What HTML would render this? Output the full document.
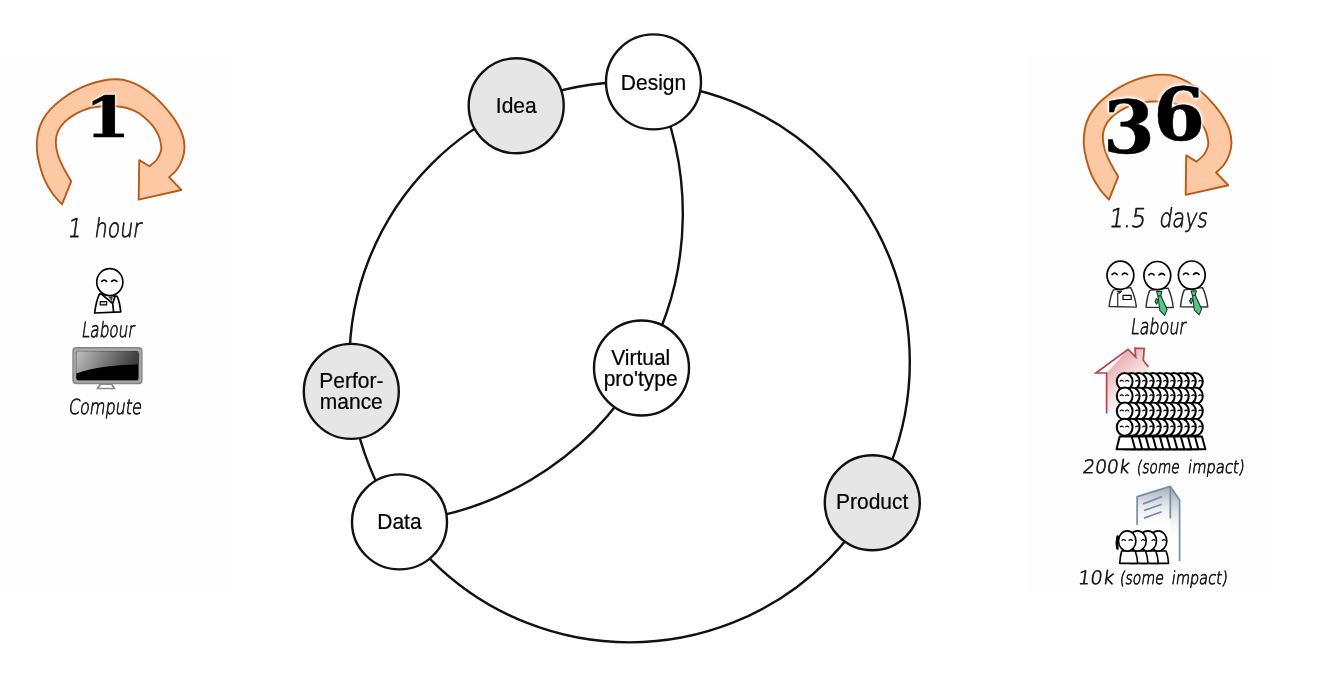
<!DOCTYPE html>
<html lang="en">
<head>
<meta charset="utf-8">
<title>Design cycle</title>
<style>
html,body{margin:0;padding:0;background:#fff;}
body{width:1317px;height:679px;overflow:hidden;position:relative;}
svg{position:absolute;left:0;top:0;display:block;}
text{opacity:.999;}
.lbl{font-family:"Liberation Sans",sans-serif;font-size:21px;fill:#000;stroke:#000;stroke-width:.22px;text-anchor:middle;}
.hand{font-family:"DejaVu Sans","Liberation Sans",sans-serif;font-weight:200;fill:#151515;stroke:#151515;stroke-width:.75px;stroke-linejoin:round;}
.num{font-family:"DejaVu Serif","Liberation Serif",serif;font-weight:bold;fill:#000;stroke:#000;stroke-width:.6px;filter:drop-shadow(0 0 1.2px #fff) drop-shadow(0 0 1.6px #fff) drop-shadow(0 0 2px #fff);}
.ink{fill:#fff;stroke:#000;stroke-width:1.7;stroke-linejoin:round;stroke-linecap:round;}
.ink .eye{fill:none;stroke-width:1.4;}
.crowd{fill:#fff;stroke:#000;stroke-width:2;stroke-linejoin:round;stroke-linecap:round;}
.crowd .eye{fill:none;stroke-width:1.2;}
.tie{fill:#4fcb85;stroke:#173d28;stroke-width:1.1;stroke-linejoin:round;}
</style>
</head>
<body>
<svg width="1317" height="679" viewBox="0 0 1317 679">
<defs>
  <path id="arrow" d="M62.0,204.4 C60.5,202.6 55.6,197.9 52.7,193.7 C49.8,189.5 46.6,184.3 44.4,179.3 C42.2,174.3 40.6,169.0 39.3,163.8 C38.0,158.7 37.0,153.4 36.8,148.4 C36.5,143.4 36.9,138.6 37.8,133.9 C38.7,129.2 40.3,124.6 42.4,120.5 C44.5,116.4 47.5,112.6 50.6,109.2 C53.7,105.8 57.1,102.8 60.9,99.9 C64.7,97.0 68.8,94.1 73.3,91.6 C77.8,89.1 82.9,86.6 87.7,84.8 C92.5,83.0 97.4,81.6 102.2,80.7 C107.0,79.8 112.1,79.2 116.6,79.3 C121.0,79.4 124.8,80.0 128.9,81.3 C133.0,82.6 137.1,84.5 141.2,86.9 C145.3,89.3 149.6,92.4 153.6,95.8 C157.6,99.2 161.3,103.0 164.9,107.1 C168.5,111.2 172.4,115.9 175.3,120.5 C178.2,125.1 181.0,130.4 182.5,134.9 C184.0,139.4 184.5,143.3 184.5,147.3 C184.5,151.3 183.7,155.1 182.5,158.7 C181.3,162.3 179.5,165.9 177.3,169.0 C175.1,172.1 170.5,175.8 169.1,177.2 L181.4,190.0 L138.7,199.6 L139.2,160.1 L149.5,166.3 C150.7,165.2 154.8,162.2 156.7,159.7 C158.6,157.2 160.1,153.6 160.8,151.4 C161.6,149.2 161.5,148.9 161.2,146.3 C160.9,143.7 160.2,139.4 158.8,136.0 C157.4,132.6 155.2,129.0 152.6,125.7 C150.0,122.4 146.6,119.0 143.3,116.4 C140.0,113.8 136.8,111.8 133.0,110.2 C129.2,108.6 125.3,107.4 120.6,106.7 C115.9,106.0 109.8,106.1 105.0,106.2 C100.2,106.3 95.5,106.8 91.9,107.5 C88.3,108.2 86.7,108.9 83.6,110.2 C80.5,111.5 76.6,113.3 73.3,115.4 C70.0,117.5 66.6,119.8 64.0,122.6 C61.4,125.3 59.2,128.6 57.8,131.9 C56.4,135.2 55.8,138.4 55.8,142.2 C55.8,146.0 56.6,150.4 57.8,154.5 C59.0,158.6 60.8,162.4 63.0,166.9 C65.2,171.4 69.8,178.9 71.2,181.3 Z"/>
  <linearGradient id="gloss" gradientUnits="userSpaceOnUse" x1="80" y1="351" x2="128" y2="376">
    <stop offset="0" stop-color="#b8b8b8"/>
    <stop offset="1" stop-color="#3c3c3c"/>
  </linearGradient>
  <linearGradient id="bezel" x1="0" y1="0" x2="0" y2="1">
    <stop offset="0" stop-color="#8c8c8c"/>
    <stop offset="1" stop-color="#9a9a9a"/>
  </linearGradient>
  <linearGradient id="houseg" gradientUnits="userSpaceOnUse" x1="1112" y1="362" x2="1140" y2="392">
    <stop offset="0" stop-color="#e9aeb2"/>
    <stop offset="1" stop-color="#e9aeb2" stop-opacity="0"/>
  </linearGradient>
  <linearGradient id="bldf" gradientUnits="userSpaceOnUse" x1="0" y1="490" x2="0" y2="527">
    <stop offset="0" stop-color="#aeb6c4"/>
    <stop offset="1" stop-color="#ffffff" stop-opacity="0"/>
  </linearGradient>
  <linearGradient id="blds" gradientUnits="userSpaceOnUse" x1="0" y1="490" x2="0" y2="540">
    <stop offset="0" stop-color="#a2aaba"/>
    <stop offset="1" stop-color="#ffffff" stop-opacity="0"/>
  </linearGradient>
  <g id="head">
    <ellipse cx="0" cy="0" rx="13.4" ry="14.1"/>
    <path class="eye" d="M-8.3,-0.8 q2.5,-2.6 5,0 M1.8,-0.8 q2.6,-2.6 5.4,0"/>
  </g>
  <g id="personA">
    <path d="M-10.2,11.7 Q-13.5,18 -15.2,30.9 L10.9,29.8 Q10,20 7.3,14.3 Z"/>
    <path d="M-7.7,12.5 L2.9,21.4 L3.8,29.8 M5.1,14.3 L2.9,21.4" fill="none"/>
    <path d="M-0.6,15 L2.6,15.4 L1.8,18.2 Z" fill="#333" stroke-width=".5"/>
    <rect x="-9.6" y="19.6" width="6.4" height="3.2" fill="#ddd" stroke-width="1.2"/>
    <use href="#head" transform="scale(0.975,0.96)"/>
  </g>
  <g id="personB">
    <path d="M-7,14.6 Q-10,20 -11.3,31.2 L16,31.8 Q14.5,20 10.2,12.3 Z" stroke="#333" stroke-width="1.45"/>
    <path d="M-2.7,18 L-2.7,31.3" fill="none" stroke="#333" stroke-width="1.3"/>
    <path d="M-3.2,15.6 L1.6,15.6 L-0.8,18.2 Z" fill="#333" stroke-width=".6"/>
    <rect x="2.6" y="20.1" width="8.1" height="4.1" fill="#fff" stroke-width="1.2"/>
    <use href="#head"/>
  </g>
  <g id="personC">
    <path d="M-7.5,14.8 Q-10,20 -11.3,31.6 L16,31.9 Q14.5,20 10.7,12.5 Z" stroke="#333" stroke-width="1.45"/>
    <path class="tie" d="M-0.8,23 L-2.2,26 L-0.6,28.6 L1,24.5 Z"/>
    <path class="tie" d="M-0.8,15.8 L4.5,15.8 L3.5,20.1 L0.7,20.6 Z"/>
    <path class="tie" d="M0.7,20.6 L3.5,20.1 L9.8,34 L7.4,39.8 L2.6,35 Z"/>
    <use href="#head"/>
  </g>
</defs>
<g id="panel-bg">
  <rect x="0" y="52" width="233" height="542" fill="#fefefe"/>
  <rect x="1027" y="52" width="247" height="542" fill="#fefefe"/>
</g>

<g id="diagram" fill="none" stroke="#111" stroke-width="2.4">
  <circle cx="629.6" cy="362.2" r="280.2"/>
  <path d="M653.5,81.9 A309.6,309.6 0 0 1 399.5,521.9"/>
  <circle cx="516.2" cy="105.8" r="47.5" fill="#e6e6e6"/>
  <circle cx="653.5" cy="81.9" r="47.5" fill="#fff"/>
  <circle cx="351.3" cy="391.4" r="47.5" fill="#e6e6e6"/>
  <circle cx="399.5" cy="521.9" r="47.5" fill="#fff"/>
  <circle cx="641.5" cy="368" r="47.5" fill="#fff"/>
  <circle cx="872.3" cy="502.8" r="47.5" fill="#e6e6e6"/>
</g>
<g id="labels" class="lbl">
  <text transform="translate(516.3,112.9) scale(1,1.075)">Idea</text>
  <text transform="translate(653.5,89.6) scale(1,1.075)">Design</text>
  <text transform="translate(351.3,387.5) scale(1,1.075)">Perfor-</text>
  <text transform="translate(351.3,409.1) scale(1,1.075)">mance</text>
  <text transform="translate(399.4,529.0) scale(1,1.075)">Data</text>
  <text transform="translate(640.7,365.0) scale(1,1.075)">Virtual</text>
  <text transform="translate(640.7,385.8) scale(1,1.075)">pro'type</text>
  <text transform="translate(872.2,509.0) scale(1,1.075)">Product</text>
</g>

<g id="left-panel">
  <use href="#arrow" fill="#fdc9a5" stroke="#b85a18" stroke-width="1.9" stroke-linejoin="round"/>
  <text class="num" font-size="100" transform="translate(84.7,137) scale(0.656,0.5635)">1</text>
  <text class="hand" font-size="26" transform="translate(0,236.6) skewX(-8)" y="0"><tspan x="66.90" textLength="13.74" lengthAdjust="spacingAndGlyphs">1</tspan> <tspan x="93.80" textLength="46.80" lengthAdjust="spacingAndGlyphs">hour</tspan></text>
  <use href="#personA" class="ink" transform="translate(109.8,282.1)"/>
  <text class="hand" font-size="21" transform="translate(0,336.5) skewX(-8)" y="0"><tspan x="81.07" textLength="52.71" lengthAdjust="spacingAndGlyphs">Labour</tspan></text>
  <g id="monitor">
    <path d="M100.4,384.2 L111.6,384.2 L114.4,388.5 L97.6,388.5 Z" fill="#fff" stroke="#8a8a8a" stroke-width="1.7"/>
    <rect x="72.3" y="347.1" width="70.3" height="37.1" rx="4" fill="#858585"/>
    <rect x="73.6" y="348.5" width="67.7" height="34.3" rx="3" fill="#a9a9a9"/>
    <rect x="75.6" y="350.7" width="63.7" height="30.2" rx="2.6" fill="#8a8a8a"/>
    <rect x="76.3" y="351.3" width="62.2" height="28.9" rx="2.2" fill="#000"/>
    <path d="M76.3,353.5 a2.2,2.2 0 0 1 2.2,-2.2 h57.8 a2.2,2.2 0 0 1 2.2,2.2 V364.6 C112,364.9 92,368.2 76.3,373.4 Z" fill="url(#gloss)"/>
  </g>
  <text class="hand" font-size="20.6" transform="translate(0,414.4) skewX(-8)" y="0"><tspan x="68.09" textLength="73.04" lengthAdjust="spacingAndGlyphs">Compute</tspan></text>
</g>

<g id="right-panel">
  <use href="#arrow" transform="translate(1047,-4.7)" fill="#fdc9a5" stroke="#b85a18" stroke-width="1.9" stroke-linejoin="round"/>
  <text class="num" font-size="100" transform="scale(0.744,0.736)"><tspan x="1482.7" y="207.3">3</tspan><tspan x="1550.1" y="190.5">6</tspan></text>
  <text class="hand" font-size="26" transform="translate(0,226.7) skewX(-8)" y="0"><tspan x="1108.22" textLength="36.84" lengthAdjust="spacingAndGlyphs">1.5</tspan> <tspan x="1158.44" textLength="48.69" lengthAdjust="spacingAndGlyphs">days</tspan></text>
  <use href="#personB" class="ink" transform="translate(1120.4,275.3)"/>
  <use href="#personC" class="ink" transform="translate(1157.3,275.6)"/>
  <use href="#personC" class="ink" transform="translate(1191.8,275.1)"/>
  <text class="hand" font-size="21.5" transform="translate(0,333.5) skewX(-8)" y="0"><tspan x="1130.04" textLength="55.00" lengthAdjust="spacingAndGlyphs">Labour</tspan></text>
  <g id="house">
    <path d="M1106.6,373 L1128.1,349.3 L1135.7,356.9 L1134.9,348.1 L1144.2,348.5 L1143.3,360.3 L1148.4,367.1 L1150,414 L1106.6,413.6 Z" fill="url(#houseg)"/>
    <path d="M1106.6,413.6 L1106.6,373 L1095.9,373 L1128.1,349.3 L1135.7,356.9 L1134.9,348.1 L1144.2,348.5 L1143.3,360.3 L1148.4,367.1" fill="none" stroke="#b4454b" stroke-width="1.7" stroke-linejoin="miter"/>
  </g>
  <g class="crowd">
<path d="M1189.9,436.5 L1186.7,449.3 L1205.4,449.3 L1201.9,436.5 Z"/>
<path d="M1182.9,436.5 L1179.7,449.3 L1198.4,449.3 L1194.9,436.5 Z"/>
<path d="M1175.9,436.5 L1172.7,449.3 L1191.4,449.3 L1187.9,436.5 Z"/>
<path d="M1168.8,436.5 L1165.6,449.3 L1184.3,449.3 L1180.8,436.5 Z"/>
<path d="M1161.8,436.5 L1158.6,449.3 L1177.3,449.3 L1173.8,436.5 Z"/>
<path d="M1154.8,436.5 L1151.6,449.3 L1170.3,449.3 L1166.8,436.5 Z"/>
<path d="M1147.8,436.5 L1144.6,449.3 L1163.3,449.3 L1159.8,436.5 Z"/>
<path d="M1140.8,436.5 L1137.6,449.3 L1156.3,449.3 L1152.8,436.5 Z"/>
<path d="M1133.7,436.5 L1130.5,449.3 L1149.2,449.3 L1145.7,436.5 Z"/>
<path d="M1126.7,436.5 L1123.5,449.3 L1142.2,449.3 L1138.7,436.5 Z"/>
<path d="M1119.7,436.5 L1116.5,449.3 L1135.2,449.3 L1131.7,436.5 Z"/>
<ellipse cx="1194.9" cy="381.5" rx="7.9" ry="8.5"/>
<path class="eye" d="M1198.9,381.2 q1.2,-1.4 2.6,-0.2"/>
<ellipse cx="1187.9" cy="381.5" rx="7.9" ry="8.5"/>
<path class="eye" d="M1191.9,381.2 q1.2,-1.4 2.6,-0.2"/>
<ellipse cx="1180.9" cy="381.5" rx="7.9" ry="8.5"/>
<path class="eye" d="M1184.9,381.2 q1.2,-1.4 2.6,-0.2"/>
<ellipse cx="1173.8" cy="381.5" rx="7.9" ry="8.5"/>
<path class="eye" d="M1177.8,381.2 q1.2,-1.4 2.6,-0.2"/>
<ellipse cx="1166.8" cy="381.5" rx="7.9" ry="8.5"/>
<path class="eye" d="M1170.8,381.2 q1.2,-1.4 2.6,-0.2"/>
<ellipse cx="1159.8" cy="381.5" rx="7.9" ry="8.5"/>
<path class="eye" d="M1163.8,381.2 q1.2,-1.4 2.6,-0.2"/>
<ellipse cx="1152.8" cy="381.5" rx="7.9" ry="8.5"/>
<path class="eye" d="M1156.8,381.2 q1.2,-1.4 2.6,-0.2"/>
<ellipse cx="1145.8" cy="381.5" rx="7.9" ry="8.5"/>
<path class="eye" d="M1149.8,381.2 q1.2,-1.4 2.6,-0.2"/>
<ellipse cx="1138.7" cy="381.5" rx="7.9" ry="8.5"/>
<path class="eye" d="M1142.7,381.2 q1.2,-1.4 2.6,-0.2"/>
<ellipse cx="1131.7" cy="381.5" rx="7.9" ry="8.5"/>
<path class="eye" d="M1135.7,381.2 q1.2,-1.4 2.6,-0.2"/>
<ellipse cx="1124.7" cy="381.5" rx="7.9" ry="8.5"/>
<path class="eye" d="M1120.1,381.2 q1.6,-1.6 3.2,0 M1125.6,381.2 q1.6,-1.6 3.2,0"/>
<ellipse cx="1194.9" cy="395.9" rx="7.9" ry="8.5"/>
<path class="eye" d="M1198.9,395.6 q1.2,-1.4 2.6,-0.2"/>
<ellipse cx="1187.9" cy="395.9" rx="7.9" ry="8.5"/>
<path class="eye" d="M1191.9,395.6 q1.2,-1.4 2.6,-0.2"/>
<ellipse cx="1180.9" cy="395.9" rx="7.9" ry="8.5"/>
<path class="eye" d="M1184.9,395.6 q1.2,-1.4 2.6,-0.2"/>
<ellipse cx="1173.8" cy="395.9" rx="7.9" ry="8.5"/>
<path class="eye" d="M1177.8,395.6 q1.2,-1.4 2.6,-0.2"/>
<ellipse cx="1166.8" cy="395.9" rx="7.9" ry="8.5"/>
<path class="eye" d="M1170.8,395.6 q1.2,-1.4 2.6,-0.2"/>
<ellipse cx="1159.8" cy="395.9" rx="7.9" ry="8.5"/>
<path class="eye" d="M1163.8,395.6 q1.2,-1.4 2.6,-0.2"/>
<ellipse cx="1152.8" cy="395.9" rx="7.9" ry="8.5"/>
<path class="eye" d="M1156.8,395.6 q1.2,-1.4 2.6,-0.2"/>
<ellipse cx="1145.8" cy="395.9" rx="7.9" ry="8.5"/>
<path class="eye" d="M1149.8,395.6 q1.2,-1.4 2.6,-0.2"/>
<ellipse cx="1138.7" cy="395.9" rx="7.9" ry="8.5"/>
<path class="eye" d="M1142.7,395.6 q1.2,-1.4 2.6,-0.2"/>
<ellipse cx="1131.7" cy="395.9" rx="7.9" ry="8.5"/>
<path class="eye" d="M1135.7,395.6 q1.2,-1.4 2.6,-0.2"/>
<ellipse cx="1124.7" cy="395.9" rx="7.9" ry="8.5"/>
<path class="eye" d="M1120.1,395.6 q1.6,-1.6 3.2,0 M1125.6,395.6 q1.6,-1.6 3.2,0"/>
<ellipse cx="1194.9" cy="411.1" rx="7.9" ry="8.5"/>
<path class="eye" d="M1198.9,410.8 q1.2,-1.4 2.6,-0.2"/>
<ellipse cx="1187.9" cy="411.1" rx="7.9" ry="8.5"/>
<path class="eye" d="M1191.9,410.8 q1.2,-1.4 2.6,-0.2"/>
<ellipse cx="1180.9" cy="411.1" rx="7.9" ry="8.5"/>
<path class="eye" d="M1184.9,410.8 q1.2,-1.4 2.6,-0.2"/>
<ellipse cx="1173.8" cy="411.1" rx="7.9" ry="8.5"/>
<path class="eye" d="M1177.8,410.8 q1.2,-1.4 2.6,-0.2"/>
<ellipse cx="1166.8" cy="411.1" rx="7.9" ry="8.5"/>
<path class="eye" d="M1170.8,410.8 q1.2,-1.4 2.6,-0.2"/>
<ellipse cx="1159.8" cy="411.1" rx="7.9" ry="8.5"/>
<path class="eye" d="M1163.8,410.8 q1.2,-1.4 2.6,-0.2"/>
<ellipse cx="1152.8" cy="411.1" rx="7.9" ry="8.5"/>
<path class="eye" d="M1156.8,410.8 q1.2,-1.4 2.6,-0.2"/>
<ellipse cx="1145.8" cy="411.1" rx="7.9" ry="8.5"/>
<path class="eye" d="M1149.8,410.8 q1.2,-1.4 2.6,-0.2"/>
<ellipse cx="1138.7" cy="411.1" rx="7.9" ry="8.5"/>
<path class="eye" d="M1142.7,410.8 q1.2,-1.4 2.6,-0.2"/>
<ellipse cx="1131.7" cy="411.1" rx="7.9" ry="8.5"/>
<path class="eye" d="M1135.7,410.8 q1.2,-1.4 2.6,-0.2"/>
<ellipse cx="1124.7" cy="411.1" rx="7.9" ry="8.5"/>
<path class="eye" d="M1120.1,410.8 q1.6,-1.6 3.2,0 M1125.6,410.8 q1.6,-1.6 3.2,0"/>
<ellipse cx="1194.9" cy="427.2" rx="7.9" ry="8.5"/>
<path class="eye" d="M1198.9,426.9 q1.2,-1.4 2.6,-0.2"/>
<ellipse cx="1187.9" cy="427.2" rx="7.9" ry="8.5"/>
<path class="eye" d="M1191.9,426.9 q1.2,-1.4 2.6,-0.2"/>
<ellipse cx="1180.9" cy="427.2" rx="7.9" ry="8.5"/>
<path class="eye" d="M1184.9,426.9 q1.2,-1.4 2.6,-0.2"/>
<ellipse cx="1173.8" cy="427.2" rx="7.9" ry="8.5"/>
<path class="eye" d="M1177.8,426.9 q1.2,-1.4 2.6,-0.2"/>
<ellipse cx="1166.8" cy="427.2" rx="7.9" ry="8.5"/>
<path class="eye" d="M1170.8,426.9 q1.2,-1.4 2.6,-0.2"/>
<ellipse cx="1159.8" cy="427.2" rx="7.9" ry="8.5"/>
<path class="eye" d="M1163.8,426.9 q1.2,-1.4 2.6,-0.2"/>
<ellipse cx="1152.8" cy="427.2" rx="7.9" ry="8.5"/>
<path class="eye" d="M1156.8,426.9 q1.2,-1.4 2.6,-0.2"/>
<ellipse cx="1145.8" cy="427.2" rx="7.9" ry="8.5"/>
<path class="eye" d="M1149.8,426.9 q1.2,-1.4 2.6,-0.2"/>
<ellipse cx="1138.7" cy="427.2" rx="7.9" ry="8.5"/>
<path class="eye" d="M1142.7,426.9 q1.2,-1.4 2.6,-0.2"/>
<ellipse cx="1131.7" cy="427.2" rx="7.9" ry="8.5"/>
<path class="eye" d="M1135.7,426.9 q1.2,-1.4 2.6,-0.2"/>
<ellipse cx="1124.7" cy="427.2" rx="7.9" ry="8.5"/>
<path class="eye" d="M1120.1,426.9 q1.6,-1.6 3.2,0 M1125.6,426.9 q1.6,-1.6 3.2,0"/>
  </g>
  <text class="hand" font-size="18.5" transform="translate(0,473.4) skewX(-8)" y="0"><tspan x="1082.21" textLength="46.72" lengthAdjust="spacingAndGlyphs">200k</tspan> <tspan x="1136.36" textLength="42.58" lengthAdjust="spacingAndGlyphs" font-size="17.5">(some</tspan> <tspan x="1187.36" textLength="56.51" lengthAdjust="spacingAndGlyphs" font-size="17.5">impact)</tspan></text>
  <g id="building">
    <path d="M1137.1,496.6 L1170.3,486.4 L1170.3,527 L1137.1,527 Z" fill="url(#bldf)"/>
    <path d="M1170.3,486.4 L1179.6,499.9 L1179.6,545 L1170.3,545 Z" fill="url(#blds)"/>
    <path d="M1137.1,525.1 L1137.1,496.6 L1170.3,486.4 L1179.6,499.9 L1179.6,560.9 M1170.3,486.4 L1170.3,518.5 M1143.1,503.9 L1162.1,496.6 M1144,510.5 L1161.7,504.3 M1144,518.1 L1161.7,511.8" fill="none" stroke="#7391a0" stroke-width="1.7" stroke-linejoin="round"/>
  </g>
  <g class="crowd" style="stroke-width:1.65">
    <path d="M1117.6,536.5 q-1.4,6 -0.2,12" fill="none" stroke-width="2.6"/>
<path d="M1152.6,551 Q1151.1,556 1150.6,563.3 L1168.6,563.3 Q1168.1,556 1166.1,551 Z"/>
<path d="M1142.3,551 Q1140.8,556 1140.3,563.3 L1158.3,563.3 Q1157.8,556 1155.8,551 Z"/>
<path d="M1132,551 Q1130.5,556 1130,563.3 L1148,563.3 Q1147.5,556 1145.5,551 Z"/>
<path d="M1121.7,551 Q1120.2,556 1119.7,563.3 L1137.7,563.3 Q1137.2,556 1135.2,551 Z"/>
<ellipse cx="1158.1" cy="540.9" rx="8.7" ry="10.1"/>
<path class="eye" d="M1162.3,540.3 q1.5,-1.5 3,0"/>
<ellipse cx="1147.8" cy="540.9" rx="8.7" ry="10.1"/>
<path class="eye" d="M1152,540.3 q1.5,-1.5 3,0"/>
<ellipse cx="1137.5" cy="540.9" rx="8.7" ry="10.1"/>
<path class="eye" d="M1141.7,540.3 q1.5,-1.5 3,0"/>
<ellipse cx="1127.2" cy="540.9" rx="8.7" ry="10.1"/>
<path class="eye" d="M1122,540.3 q1.7,-1.5 3.4,0 M1129,540.3 q1.7,-1.5 3.4,0"/>
  </g>
  <text class="hand" font-size="18.5" transform="translate(0,583.8) skewX(-8)" y="0"><tspan x="1077.16" textLength="36.13" lengthAdjust="spacingAndGlyphs">10k</tspan> <tspan x="1119.22" textLength="44.02" lengthAdjust="spacingAndGlyphs" font-size="17.5">(some</tspan> <tspan x="1171.12" textLength="55.74" lengthAdjust="spacingAndGlyphs" font-size="17.5">impact)</tspan></text>
</g>
</svg>
</body>
</html>
